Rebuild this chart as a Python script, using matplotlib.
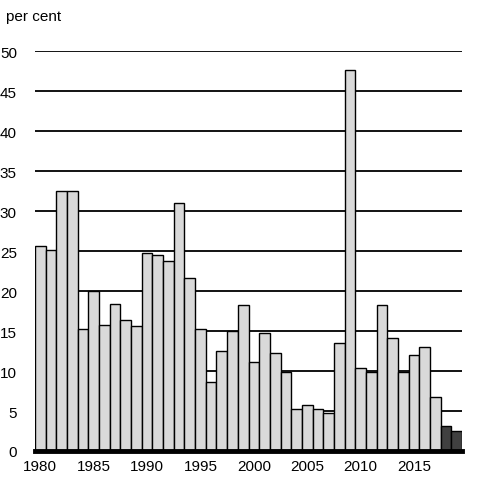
import matplotlib
matplotlib.use("Agg")
import matplotlib.pyplot as plt

years = list(range(1980, 2020))
values = [25.6, 25.1, 32.5, 32.5, 15.2, 20.0, 15.8, 18.4, 16.4, 15.6,
          24.7, 24.5, 23.7, 31.0, 21.6, 15.2, 8.6, 12.5, 15.0, 18.3,
          11.1, 14.8, 12.2, 9.9, 5.2, 5.8, 5.2, 4.7, 13.5, 47.6,
          10.4, 9.9, 18.3, 14.1, 9.9, 12.0, 13.0, 6.7, 3.1, 2.5]
projected_from = 2018
light = "#d9d9d9"
dark = "#404040"
yticks = list(range(0, 55, 5))
xticks = list(range(1980, 2020, 5))

plt.rcParams['font.family'] = ['Liberation Sans', 'DejaVu Sans']
fig = plt.figure(figsize=(4.85, 4.85), dpi=100)
ax = fig.add_axes([35/485, 1 - 452/485, (462-35)/485, (452-52)/485])

colors = [dark if y >= projected_from else light for y in years]
ax.bar(years, values, width=1.0, color=colors, edgecolor="black", linewidth=1.0, zorder=3)

for t in yticks[1:]:
    ax.axhline(t, color="black", linewidth=1.3, zorder=1)

ax.set_xlim(1979.5, 2019.5)
ax.set_ylim(0, 50)
ax.set_yticks(yticks)
ax.set_xticks(xticks)
ax.tick_params(axis="both", length=0, labelsize=11)
ax.tick_params(axis="y", pad=13)
ax.tick_params(axis="x", pad=6)
for s in ["top", "right", "left"]:
    ax.spines[s].set_visible(False)
ax.spines["bottom"].set_linewidth(3.5)
ax.spines["bottom"].set_zorder(4)

fig.text(6/485, 1 - 17/485, "per cent", fontsize=11, va="center", ha="left")

fig.savefig("out.png", dpi=100)
